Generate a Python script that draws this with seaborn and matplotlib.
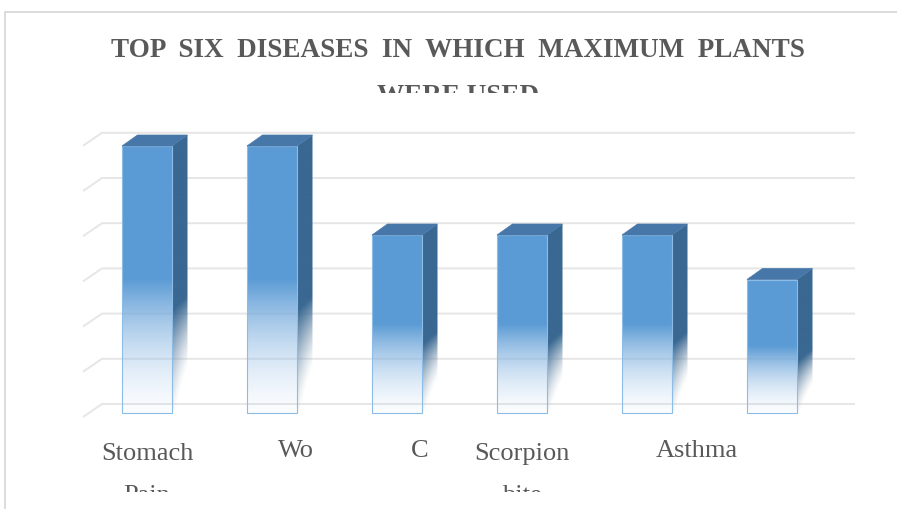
import numpy as np
import pandas as pd
import seaborn as sns
import matplotlib
matplotlib.use("Agg")
import matplotlib.pyplot as plt
from matplotlib.patches import Polygon
from matplotlib.lines import Line2D
from matplotlib.transforms import Bbox, TransformedBbox, blended_transform_factory, ScaledTranslation
from matplotlib.colors import to_rgb

# ---------------- data ----------------
categories = ["Stomach\nPain", "Wo", "C", "Scorpion\nbite", "Asthma", ""]
values = [6, 6, 4, 4, 4, 3]
grid_ticks = [0, 1, 2, 3, 4, 5, 6]
title_text = "TOP  SIX  DISEASES  IN  WHICH  MAXIMUM  PLANTS\nWERE USED"

# ---------------- style ----------------
W, H, DPI = 897, 509, 100
FRONT = "#5B9BD5"
SIDE = "#3A6892"
TOPC = "#4677A8"
TEXT = "#595959"
GRID = "#E6E6E6"
FRAME = "#D9D9D9"
label_dx_px = [0, 24, 23, 0, 50, 0]
LINE_PX = 45  # baseline-to-baseline distance of wrapped text

sns.set_theme(style="white")
plt.rcParams["font.family"] = ["Liberation Serif", "DejaVu Serif"]

fig = plt.figure(figsize=(W / DPI, H / DPI), dpi=DPI)
fig.patch.set_facecolor("white")


def px_box(l, t, r, b):
    return [l / W, 1 - b / H, (r - l) / W, (b - t) / H]


ax = fig.add_axes(px_box(80, 120, 860, 420))
XPX, XSC = 147, 125.0     # pixel of first category, pixels per category
YPX, YSC = 413, 44.5      # pixel of zero, pixels per unit
XL = ((80 - XPX) / XSC, (860 - XPX) / XSC)
YL = ((YPX - 420) / YSC, (YPX - 120) / YSC)
DX, DY = 15.5 / XSC, 11.0 / YSC   # 3-D depth offset


# back wall gridlines
def wall_y(k):
    return (YPX - 404) / YSC + k * 45.2 / YSC


gx0, gx1, gxd = (102 - XPX) / XSC, (855 - XPX) / XSC, (83 - XPX) / XSC
for k in grid_ticks:
    wy = wall_y(k)
    ax.plot([gxd, gx0, gx1], [wy - 13 / YSC, wy, wy], color=GRID, lw=1.4,
            zorder=0.5, solid_capstyle="butt")

df = pd.DataFrame({"disease": categories, "plants": values})
sns.barplot(data=df, x="disease", y="plants", order=categories, width=0.4,
            color=FRONT, errorbar=None, ax=ax, zorder=2)


def shade(base, light, s, amin=0.05, gamma=1.2):
    s = np.clip(s, 0, 1)
    c = np.array(to_rgb(base))
    lt = np.array(to_rgb(light))
    rgb = lt[None, None, :] + (c - lt)[None, None, :] * s[..., None]
    a = amin + (1 - amin) * s ** gamma
    return np.concatenate([rgb, a[..., None]], axis=-1)


for p in list(ax.patches):
    x0, w, h = p.get_x(), p.get_width(), p.get_height()
    xr = x0 + w
    # front face gradient
    ny = 300
    t = np.linspace(0, 1, ny)[:, None] * np.ones((1, 2))
    img = shade(FRONT, "#B3D0EE", t / 0.5)
    im = ax.imshow(img, extent=[x0, xr, 0, h], origin="lower", aspect="auto",
                   interpolation="bilinear", zorder=2.1)
    im.set_clip_path(p)
    p.set_facecolor("none")
    p.set_edgecolor("#8DBCE6")
    p.set_linewidth(0.8)
    p.set_zorder(2.2)
    # side face
    side = Polygon([(xr, 0), (xr + DX, DY), (xr + DX, h + DY), (xr, h)],
                   closed=True, facecolor="none", edgecolor="none", zorder=2)
    ax.add_patch(side)
    nx, ny2 = 40, 300
    xs = np.linspace(xr, xr + DX, nx)
    ys = np.linspace(0, h + DY, ny2)
    XX, YY = np.meshgrid(xs, ys)
    u = (XX - xr) / DX
    tf = (YY - u * DY) / h
    diag = 0.28 * u * (1 - np.clip(tf / 0.42, 0, 1))
    simg = shade(SIDE, "#B8C4D0", (tf + 0.06 - diag) / 0.44, amin=0.0, gamma=1.0)
    sim = ax.imshow(simg, extent=[xr, xr + DX, 0, h + DY], origin="lower",
                    aspect="auto", interpolation="bilinear", zorder=2)
    sim.set_clip_path(side)
    # top face
    ax.add_patch(Polygon([(x0, h), (x0 + DX, h + DY), (xr + DX, h + DY), (xr, h)],
                         closed=True, facecolor=TOPC, edgecolor=TOPC, lw=0.5, zorder=2.3))

ax.set_xlim(XL)
ax.set_ylim(YL)
ax.axis("off")

# title (second line cut by the chart area as in the source)
n_title = title_text.count("\n")
title = fig.text(458 / W, 1 - (58 + LINE_PX * n_title) / H, title_text, ha="center",
                 va="baseline", multialignment="center", fontsize=19.5,
                 fontweight="bold", color=TEXT, linespacing=2.11)
title.set_clip_box(TransformedBbox(Bbox([[0, 1 - 93 / H], [1, 1]]), fig.transFigure))
title.set_clip_on(True)

# category labels (second lines cut by the chart area as in the source)
lab_clip = TransformedBbox(Bbox([[0, 1 - 492 / H], [1, 1]]), fig.transFigure)
base_tr = blended_transform_factory(ax.transData, fig.transFigure)
for i, (lab, off) in enumerate(zip(categories, label_dx_px)):
    tr = base_tr + ScaledTranslation(off / DPI, 0, fig.dpi_scale_trans)
    nl = lab.count("\n")
    tx = fig.text(i, 1 - (457 + LINE_PX * nl) / H, lab, transform=tr, ha="center",
                  va="baseline", multialignment="center", fontsize=19, color=TEXT,
                  linespacing=2.18)
    tx.set_clip_box(lab_clip)
    tx.set_clip_on(True)

# chart frame
fig.add_artist(Line2D([5 / W, 5 / W], [0, 1 - 12 / H], transform=fig.transFigure,
                      color=FRAME, lw=1.3))
fig.add_artist(Line2D([5 / W, 1], [1 - 12 / H, 1 - 12 / H], transform=fig.transFigure,
                      color=FRAME, lw=1.3))

fig.savefig("out.png", dpi=DPI, facecolor="white")
